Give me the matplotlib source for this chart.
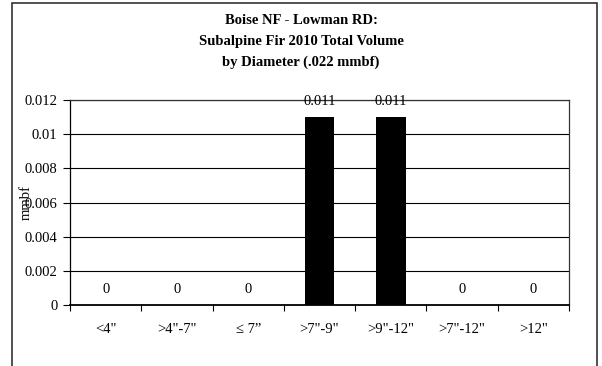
#!/usr/bin/env python3

import matplotlib
matplotlib.use("Agg")
import matplotlib.pyplot as plt
from matplotlib.patches import Rectangle
import numpy as np

categories = ['<4"', '>4"-7"', '\u2264 7\u201d', '>7"-9"', '>9"-12"', '>7"-12"', '>12"']
volume = [0, 0, 0, 0.011, 0.011, 0, 0]
value_labels = ['0', '0', '0', '0.011', '0.011', '0', '0']
yticks = [0, 0.002, 0.004, 0.006, 0.008, 0.01, 0.012]
ytick_labels = ['0', '0.002', '0.004', '0.006', '0.008', '0.01', '0.012']

plt.rcParams['font.family'] = ['Liberation Serif', 'DejaVu Serif']
fs = 10.5

fig = plt.figure(figsize=(6.02, 3.66), dpi=100)
ax = fig.add_axes([70 / 602, 61 / 366, 499 / 602, 205 / 366])

x = np.arange(len(categories))
ax.bar(x, volume, width=0.42, color='black', zorder=3)

for xi, v, lab in zip(x, volume, value_labels):
    ax.annotate(lab, (xi, v), xytext=(0, 11), textcoords='offset points',
                ha='center', va='center', fontsize=fs, zorder=4,
                annotation_clip=False)

ax.set_xlim(-0.5, len(categories) - 0.5)
ax.set_ylim(0, 0.012)
ax.set_yticks(yticks)
ax.set_yticklabels(ytick_labels)
ax.yaxis.grid(True, color='black', linewidth=0.8, zorder=0)

ax.set_xticks(x)
ax.set_xticklabels(categories)
ax.set_xticks(np.arange(len(categories) + 1) - 0.5, minor=True)
ax.tick_params(axis='x', which='major', length=0, pad=13, labelsize=fs)
ax.tick_params(axis='x', which='minor', length=4, direction='out', width=0.8)
ax.tick_params(axis='y', length=5, direction='out', width=0.8, pad=4, labelsize=fs)

for side in ['top', 'right']:
    ax.spines[side].set_linewidth(0.9)
    ax.spines[side].set_color('#333333')
ax.spines['left'].set_linewidth(0.9)
ax.spines['bottom'].set_linewidth(1.3)

ax.set_ylabel('mmbf', fontsize=fs)
ax.yaxis.set_label_coords(-37 / 499, 0.5)

fig.text(0.5, 1 - 21 / 366, 'Boise NF - Lowman RD:', ha='center', va='center',
         fontsize=fs, fontweight='bold')
fig.text(0.5, 1 - 42 / 366, 'Subalpine Fir 2010 Total Volume', ha='center', va='center',
         fontsize=fs, fontweight='bold')
fig.text(0.5, 1 - 62 / 366, 'by Diameter (.022 mmbf)', ha='center', va='center',
         fontsize=fs, fontweight='bold')

fig.patches.append(Rectangle((12 / 602, -0.05), 585 / 602, 1.05 - 3 / 366,
                             transform=fig.transFigure, fill=False,
                             edgecolor='#222222', linewidth=1.1))

plt.savefig('out.png', dpi=100)
